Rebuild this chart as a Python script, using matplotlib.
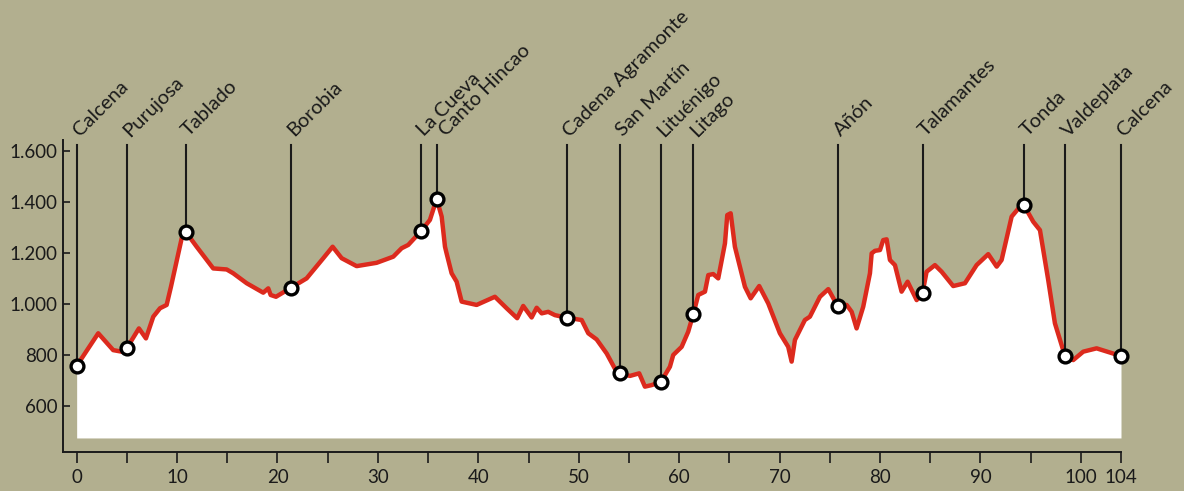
import matplotlib.pyplot as plt
import numpy as np

# elevation profile (km, m)
km = [0.0, 2.15, 3.64, 4.48, 4.98, 6.20, 6.90, 7.63, 8.30, 8.96, 9.39, 10.46, 10.85, 11.95,
      13.60, 14.94, 15.59, 16.93, 18.58, 19.08, 19.32, 19.85, 21.34, 22.90, 24.56, 25.49,
      26.39, 27.88, 29.87, 31.53, 32.36, 33.02, 34.29, 35.18, 35.85, 36.35, 36.68, 36.84,
      37.34, 37.84, 38.34, 39.83, 41.65, 42.82, 43.87, 44.47, 45.31, 45.81, 46.31, 46.96,
      47.63, 48.80, 50.29, 50.95, 51.78, 52.78, 53.77, 54.10, 55.10, 56.02, 56.59, 57.26,
      58.19, 59.08, 59.41, 60.25, 60.90, 61.40, 61.90, 62.57, 62.90, 63.39, 63.89, 64.56,
      64.79, 65.13, 65.55, 66.05, 66.55, 67.12, 67.97, 68.87, 70.03, 70.86, 71.20, 71.53,
      72.52, 73.02, 74.02, 74.85, 75.78, 76.68, 77.18, 77.67, 78.33, 79.00, 79.17, 79.50,
      80.00, 80.32, 80.66, 80.99, 81.49, 82.15, 82.75, 83.65, 84.24, 84.64, 85.47, 86.14,
      87.29, 88.46, 89.62, 90.78, 91.62, 92.11, 93.11, 93.94, 94.33, 95.26, 95.93, 96.75,
      97.42, 98.42, 99.24, 100.24, 101.57, 104.0]
elev = [757, 885, 819, 813, 826, 904, 865, 950, 983, 996, 1067, 1257, 1283, 1224,
        1139, 1135, 1120, 1081, 1044, 1061, 1035, 1028, 1063, 1100, 1179, 1224,
        1179, 1148, 1161, 1185, 1218, 1231, 1285, 1329, 1411, 1342, 1224, 1198,
        1120, 1087, 1009, 996, 1028, 983, 944, 992, 947, 985, 963, 969,
        956, 946, 937, 885, 861, 806, 734, 728, 718, 728, 676, 682,
        695, 754, 800, 832, 891, 959, 1035, 1048, 1113, 1117, 1100, 1237,
        1348, 1355, 1224, 1146, 1067, 1022, 1070, 1002, 885, 832, 774, 859,
        937, 950, 1028, 1058, 992, 996, 969, 904, 989, 1120, 1198, 1208,
        1211, 1250, 1253, 1172, 1152, 1048, 1087, 1015, 1044, 1126, 1152, 1126,
        1070, 1081, 1152, 1195, 1146, 1172, 1342, 1381, 1387, 1322, 1289, 1094,
        924, 796, 780, 813, 826, 796]

# waypoints
names = ['Calcena', 'Purujosa', 'Tablado', 'Borobia', 'La Cueva', 'Canto Hincao',
         'Cadena Agramonte', 'San Martín', 'Lituénigo', 'Litago', 'Añón', 'Talamantes',
         'Tonda', 'Valdeplata', 'Calcena']
stop_km = [0.0, 4.98, 10.85, 21.34, 34.29, 35.85, 48.80, 54.10, 58.19, 61.40,
           75.78, 84.24, 94.33, 98.42, 104.0]
stop_elev = [757, 826, 1283, 1063, 1285, 1411, 946, 728, 695, 959,
             992, 1044, 1387, 796, 796]

y_ticks = [600, 800, 1000, 1200, 1400, 1600]
y_labels = ['600', '800', '1.000', '1.200', '1.400', '1.600']
x_ticks = [0, 10, 20, 30, 40, 50, 60, 70, 80, 90, 100, 104]

bg = '#b2af8f'
red = '#dc2a1d'
ink = '#1a1a1a'

plt.rcParams['font.family'] = ['Lato', 'DejaVu Sans']

fig = plt.figure(figsize=(11.84, 4.91), dpi=100, facecolor=bg)
ax = fig.add_axes([63 / 1184, 1 - 452 / 491, (1121 - 63) / 1184, (452 - 140) / 491])
ax.set_facecolor(bg)
ax.set_xlim(-1.36, 104)
ax.set_ylim(420, 1642)

ax.fill_between(km, 475, elev, color='white', lw=0, zorder=1)
ax.plot(km, elev, color=red, lw=3.2, solid_joinstyle='round', solid_capstyle='round', zorder=2)

top = 1622
for i, (n, x, y) in enumerate(zip(names, stop_km, stop_elev)):
    ax.plot([x, x], [y, top], color=ink, lw=1.5, zorder=3, clip_on=False)
    dx = 2.5
    if i == 5:  # keep Canto Hincao clear of La Cueva
        dx = 6.5
    ax.annotate(n, (x, top), xytext=(dx, 5.5), textcoords='offset points',
                rotation=45, rotation_mode='anchor', ha='left', va='baseline',
                fontsize=14.5, color=ink, annotation_clip=False)
ax.scatter(stop_km, stop_elev, s=85, facecolor='white', edgecolor='black',
           linewidth=2.4, zorder=4, clip_on=False)

for s in ['top', 'right']:
    ax.spines[s].set_visible(False)
for s in ['left', 'bottom']:
    ax.spines[s].set_color(ink)
    ax.spines[s].set_linewidth(1.4)

ax.set_yticks(y_ticks)
ax.set_yticklabels(y_labels)
ax.tick_params(axis='y', direction='in', length=5, width=1.2, colors=ink,
               labelsize=13.5, pad=4)
ax.set_xticks(x_ticks)
ax.set_xticklabels([str(t) for t in x_ticks])
ax.set_xticks(np.arange(5, 100, 10), minor=True)
ax.tick_params(axis='x', which='both', direction='out', length=8, width=1.2,
               colors=ink, labelsize=13.5, pad=4)

fig.savefig('out.png', dpi=100, facecolor=bg)
